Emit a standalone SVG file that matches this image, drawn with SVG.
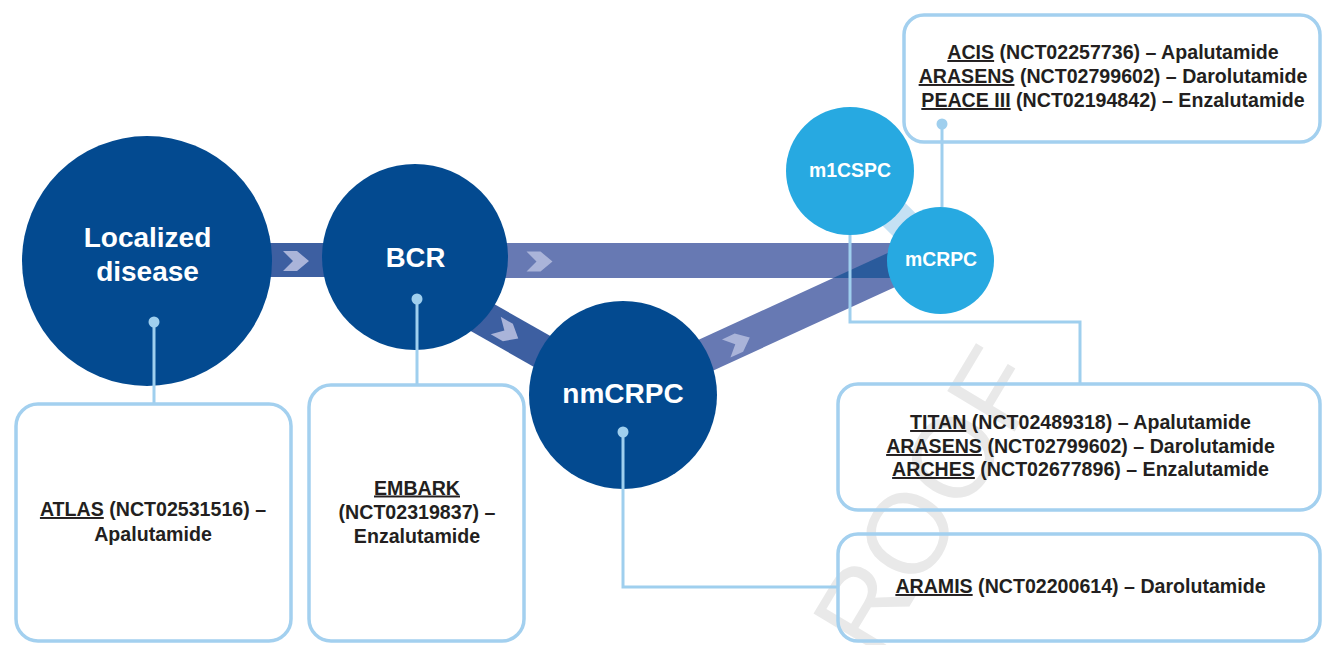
<svg xmlns="http://www.w3.org/2000/svg" width="1323" height="645" viewBox="0 0 1323 645">
<style>
.dark{fill:#034a90}
.light{fill:#27a9e1}
.chev{fill:#aab4d9}
.conn{fill:none;stroke:#9fcfee;stroke-width:3}
.dot{fill:#9fcfee}
.box{fill:none;stroke:#a3d0ef;stroke-width:3.5}
.nt{font-family:"Liberation Sans",Arial,sans-serif;font-weight:bold;fill:#ffffff;text-anchor:middle}
.bt{font-family:"Liberation Sans",Arial,sans-serif;font-weight:bold;font-size:19.6px;fill:#231f20;text-anchor:middle}
.wm{font-family:"Liberation Sans",Arial,sans-serif;font-size:114px;fill:#e9e9e9}
</style>
<defs>
<polygon id="chev" points="-13,-10 1,-10 13,0 1,10 -13,10 -3,0"/>
<clipPath id="hclip"><rect x="500" y="243" width="440" height="35"/></clipPath>
</defs>
<rect width="1323" height="645" fill="#ffffff"/>
<text class="wm" transform="translate(876,662) rotate(-59)">ROOF</text>

<g id="connectors">
<rect x="260" y="243" width="80" height="34" fill="#3d5fa1"/>
<line x1="425" y1="285" x2="612" y2="391" stroke="#3d5fa1" stroke-width="35"/>
<rect x="500" y="243" width="435" height="35" fill="#6779b3"/>
<line x1="630" y1="390" x2="935" y2="250" stroke="#6779b3" stroke-width="34"/>
<line x1="630" y1="390" x2="935" y2="250" stroke="#2a5b9c" stroke-width="34" clip-path="url(#hclip)"/>
<line x1="850" y1="171" x2="940" y2="260" stroke="#c5e1f4" stroke-width="32"/>
<use href="#chev" class="chev" transform="translate(296,261)"/>
<use href="#chev" class="chev" transform="translate(539.5,261.5)"/>
<use href="#chev" class="chev" transform="translate(507,332) rotate(30)"/>
<use href="#chev" class="chev" transform="translate(738,343) rotate(-25)"/>
</g>

<g id="localized">
<circle class="dark" cx="147" cy="261" r="125"/>
<text class="nt" font-size="28" x="147.5" y="247">Localized</text>
<text class="nt" font-size="28" x="147.5" y="281">disease</text>
</g>
<g id="bcr">
<circle class="dark" cx="415" cy="257" r="93"/>
<text class="nt" font-size="27.5" x="415.5" y="267">BCR</text>
</g>
<g id="nmcrpc">
<circle class="dark" cx="623" cy="395" r="94"/>
<text class="nt" font-size="28" x="623" y="403">nmCRPC</text>
</g>
<g id="m1cspc">
<circle class="light" cx="850" cy="171" r="64"/>
<text class="nt" font-size="19.4" x="850" y="177">m1CSPC</text>
</g>
<g id="mcrpc">
<circle class="light" cx="940.5" cy="260.5" r="53.5"/>
<text class="nt" font-size="19.4" x="941" y="266">mCRPC</text>
</g>

<g id="callouts">
<polyline class="conn" points="154,322 154,404"/>
<polyline class="conn" points="417,299 417,385"/>
<polyline class="conn" points="623,432 623,587 838,587"/>
<polyline class="conn" points="850,235 850,322 1080,322 1080,385"/>
<polyline class="conn" points="942,124 942,207"/>
<circle class="dot" cx="154" cy="322" r="5.5"/>
<circle class="dot" cx="417" cy="299" r="5.5"/>
<circle class="dot" cx="623" cy="432" r="5.5"/>
<circle class="dot" cx="942" cy="124" r="5.5"/>
</g>

<g id="box-top">
<rect class="box" x="904" y="15" width="416" height="127" rx="20"/>
<text class="bt" x="1113" y="59"><tspan text-decoration="underline">ACIS</tspan> (NCT02257736) – Apalutamide</text>
<text class="bt" x="1113" y="83"><tspan text-decoration="underline">ARASENS</tspan> (NCT02799602) – Darolutamide</text>
<text class="bt" x="1113" y="107"><tspan text-decoration="underline">PEACE III</tspan> (NCT02194842) – Enzalutamide</text>
</g>
<g id="box-titan">
<rect class="box" x="838" y="384" width="482" height="126" rx="20"/>
<text class="bt" x="1080.5" y="429"><tspan text-decoration="underline">TITAN</tspan> (NCT02489318) – Apalutamide</text>
<text class="bt" x="1080.5" y="453"><tspan text-decoration="underline">ARASENS</tspan> (NCT02799602) – Darolutamide</text>
<text class="bt" x="1080.5" y="476"><tspan text-decoration="underline">ARCHES</tspan> (NCT02677896) – Enzalutamide</text>
</g>
<g id="box-aramis">
<rect class="box" x="838" y="534" width="482" height="107" rx="20"/>
<text class="bt" x="1080.5" y="593"><tspan text-decoration="underline">ARAMIS</tspan> (NCT02200614) – Darolutamide</text>
</g>
<g id="box-atlas">
<rect class="box" x="16" y="404" width="275" height="237" rx="22"/>
<text class="bt" x="153" y="516"><tspan text-decoration="underline">ATLAS</tspan> (NCT02531516) –</text>
<text class="bt" x="153" y="540.5">Apalutamide</text>
</g>
<g id="box-embark">
<rect class="box" x="309" y="385" width="215" height="256" rx="22"/>
<text class="bt" x="417" y="494.5"><tspan text-decoration="underline">EMBARK</tspan></text>
<text class="bt" x="417" y="518.5">(NCT02319837) –</text>
<text class="bt" x="417" y="542.5">Enzalutamide</text>
</g>
</svg>
